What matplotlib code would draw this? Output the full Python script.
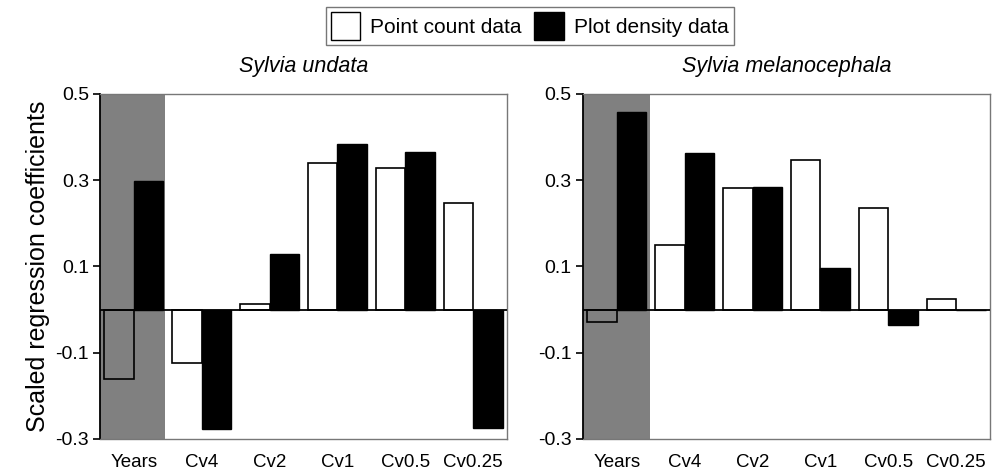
import numpy as np
import matplotlib.pyplot as plt
from matplotlib.patches import Patch

plt.rcParams['font.family'] = ['Liberation Sans', 'DejaVu Sans']

# values
categories = ["Years", "Cv4", "Cv2", "Cv1", "Cv0.5", "Cv0.25"]
undata_point = [-0.16, -0.124, 0.014, 0.34, 0.329, 0.248]
undata_plot = [0.298, -0.276, 0.129, 0.384, 0.365, -0.274]
melano_point = [-0.029, 0.15, 0.281, 0.347, 0.236, 0.025]
melano_plot = [0.459, 0.364, 0.285, 0.096, -0.035, 0.0]
yticks = [0.5, 0.3, 0.1, -0.1, -0.3]
titles = ["Sylvia undata", "Sylvia melanocephala"]


def draw_panel(ax, point, plot, title, gray_end):
    x = np.arange(len(categories))
    w = 0.435
    ax.axvspan(-0.5, gray_end, color="#808080", zorder=0, lw=0)
    ax.bar(x - w / 2, point, w, facecolor="none", edgecolor="black", linewidth=1.2, zorder=2)
    ax.bar(x + w / 2, plot, w, color="black", edgecolor="black", linewidth=1.0, zorder=2)
    ax.axhline(0, color="black", linewidth=1.3, zorder=3)
    ax.set_xlim(-0.5, len(categories) - 0.5)
    ax.set_ylim(-0.3, 0.5)
    ax.set_yticks(yticks)
    ax.set_yticklabels([f"{t:g}" for t in yticks], fontsize=14)
    ax.set_xticks(x)
    ax.set_xticklabels(categories, fontsize=13.5)
    ax.tick_params(axis="x", length=0, pad=11)
    ax.tick_params(axis="y", length=5, width=1.2, direction="out", pad=3)
    for side in ["top", "right", "bottom"]:
        ax.spines[side].set_color("#777777")
        ax.spines[side].set_linewidth(1.0)
    ax.spines["left"].set_color("black")
    ax.spines["left"].set_linewidth(1.3)
    ax.set_title(title, fontsize=15.5, style="italic", pad=16)


fig = plt.figure(figsize=(9.94, 4.71), dpi=100)
ax1 = fig.add_axes([0.1006, 0.068, 0.4095, 0.7325])
ax2 = fig.add_axes([0.5865, 0.068, 0.4095, 0.7325])

draw_panel(ax1, undata_point, undata_plot, titles[0], 0.46)
draw_panel(ax2, melano_point, melano_plot, titles[1], 0.49)

ax1.set_ylabel("Scaled regression coefficients", fontsize=18, labelpad=4)

handles = [Patch(facecolor="white", edgecolor="black", linewidth=1.0, label="Point count data"),
           Patch(facecolor="black", edgecolor="black", label="Plot density data")]
leg = fig.legend(handles=handles, loc="upper center", bbox_to_anchor=(0.533, 1.008), ncol=2,
                 fontsize=15, frameon=True, fancybox=False, edgecolor="#555555",
                 handlelength=1.4, handleheight=1.7, handletextpad=0.5, columnspacing=0.6,
                 borderpad=0.25)
leg.get_frame().set_linewidth(1.0)

fig.savefig("out.png", dpi=100)
